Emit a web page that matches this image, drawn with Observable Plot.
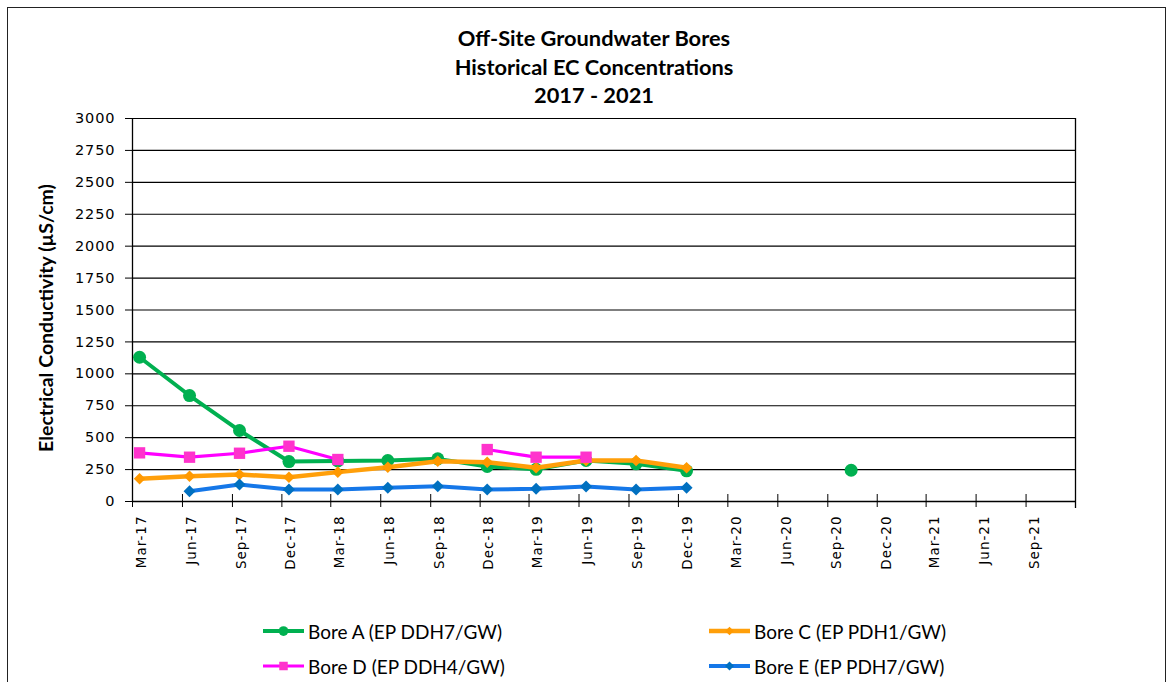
<!DOCTYPE html>
<html>
<head>
<meta charset="utf-8">
<script src="https://cdn.jsdelivr.net/npm/d3@7"></script>
<script src="https://cdn.jsdelivr.net/npm/@observablehq/plot@0.6"></script>
<style>
  html, body { margin: 0; padding: 0; background: #fff; }
  #root { position: relative; width: 1175px; height: 682px; overflow: hidden; }
  #frame { position: absolute; left: 7px; top: 7px; width: 1159px; height: 700px;
           border: 1.5px solid #222; box-sizing: border-box; }
  .title { position: absolute; left: 0; width: 1188px; text-align: center;
           font-family: Lato, sans-serif; font-weight: bold; font-size: 21.8px; color: #000; }
  #plot { position: absolute; left: 0; top: 100px; }
  #plot svg text { font-family: "DejaVu Sans", sans-serif; font-size: 14.5px; letter-spacing: 0.9px; fill: #000; }
  #plot svg g[aria-label="x-axis tick label"] text { font-size: 13.5px; letter-spacing: 1px; }
  #ytitle { position: absolute; left: 45px; top: 318px; transform: translate(-50%, -50%) rotate(-90deg);
            white-space: nowrap; font-family: Lato, sans-serif; font-weight: bold; font-size: 19.5px; }
  .leg { position: absolute; display: flex; align-items: center; font-family: Lato, sans-serif;
         font-size: 19px; color: #000; white-space: nowrap; }
  .leg svg { margin-right: 4px; }
</style>
</head>
<body>
<div id="root">
  <div id="frame"></div>
  <div id="titles"></div>
  <div id="plot"></div>
  <div id="ytitle"></div>
  <div id="legend"></div>
</div>
<script>
// ---- data ----
const titleLines = ["Off-Site Groundwater Bores", "Historical EC Concentrations", "2017 - 2021"];
const yLabel = "Electrical Conductivity (µS/cm)";
const xTickLabels = ["Mar-17","Jun-17","Sep-17","Dec-17","Mar-18","Jun-18","Sep-18","Dec-18","Mar-19","Jun-19","Sep-19","Dec-19","Mar-20","Jun-20","Sep-20","Dec-20","Mar-21","Jun-21","Sep-21"];
const yTicks = [0, 250, 500, 750, 1000, 1250, 1500, 1750, 2000, 2250, 2500, 2750, 3000];
const sampleDates = ["2017-03-14","2017-06-14","2017-09-14","2017-12-14","2018-03-14","2018-06-14","2018-09-14","2018-12-14","2019-03-14","2019-06-14","2019-09-14","2019-12-16","2020-03-14","2020-10-14"];
const boreA = [1130, 830, 556, 313, 318, 321, 334, 274, 252, 321, 295, 240, null, 245];
const boreC = [178, 198, 211, 190, 230, 269, 315, 308, 264, 321, 321, 264, null, null];
const boreD = [381, 347, 378, 433, 329, null, null, 407, 347, 347, null, null, null, null];
const boreE = [null, 81, 133, 94, 94, 107, 120, 94, 99, 117, 94, 107, null, null];
const seriesNames = ["Bore A (EP DDH7/GW)", "Bore C (EP PDH1/GW)", "Bore D (EP DDH4/GW)", "Bore E (EP PDH7/GW)"];

// ---- styles ----
const styles = [
  {values: boreA, line: "#00B050", fill: "#00B050", symbol: "circle", r: 6.5, sw: 4},
  {values: boreC, line: "#FF9F0A", fill: "#FF9900", symbol: "diamond2", r: 5.2, sw: 4.5},
  {values: boreD, line: "#FF00FF", fill: "#FF33CC", symbol: "square", r: 6.4, sw: 3.2},
  {values: boreE, line: "#1577E8", fill: "#0070C0", symbol: "diamond2", r: 5.4, sw: 4}
];

// titles
const tl = document.getElementById("titles");
const titleTops = [24, 53, 81];
titleLines.forEach((t, i) => {
  const d = document.createElement("div");
  d.className = "title"; d.textContent = t; d.style.top = titleTops[i] + "px";
  tl.appendChild(d);
});
document.getElementById("ytitle").textContent = yLabel;

const parseLab = d3.utcParse("%b-%y");
const xTicks = xTickLabels.map(parseLab);
const fmtLab = d3.utcFormat("%b-%y");
const domainX = [parseLab("Mar-17"), parseLab("Dec-21")];

const marks = [
  Plot.gridY(yTicks.filter(v => v > 0), {stroke: "#000", strokeOpacity: 1, strokeWidth: 1.2}),
  Plot.ruleY([0], {stroke: "#000", strokeWidth: 1.3}),
  Plot.ruleX([domainX[0]], {stroke: "#000", strokeWidth: 1.3}),
  Plot.ruleX([domainX[1]], {stroke: "#000", strokeWidth: 1.3, insetBottom: -7}),
  Plot.axisY(yTicks, {tickSize: 7, tickPadding: 10, tickFormat: d3.format("d"), stroke: "#000", fill: "#000", label: null}),
  Plot.axisX(xTicks.concat([domainX[1]]), {tickSize: 13, dy: -7, fill: "none", stroke: "#000", label: null}),
  Plot.axisX(xTicks, {tickSize: 0, tickPadding: 14, tickRotate: -90, dx: 9, tickFormat: fmtLab, fill: "#000", label: null})
];

styles.forEach((s, k) => {
  const rows = sampleDates.map((d, i) => ({date: new Date(d), value: s.values[i]}));
  marks.push(Plot.line(rows, {x: "date", y: "value", stroke: s.line, strokeWidth: s.sw, curve: "linear"}));
  marks.push(Plot.dot(rows.filter(r => r.value != null), {x: "date", y: "value", symbol: s.symbol, fill: s.fill, stroke: "none", r: s.r}));
});

const chart = Plot.plot({
  width: 1175, height: 490,
  marginLeft: 132, marginRight: 100, marginTop: 18, marginBottom: 89,
  style: {background: "transparent", overflow: "visible"},
  x: {type: "utc", domain: domainX},
  y: {domain: [0, 3000]},
  marks
});
document.getElementById("plot").appendChild(chart);

// legend
const legPos = [[263, 631], [709, 631], [263, 666], [709, 666]];
const leg = document.getElementById("legend");
seriesNames.forEach((name, k) => {
  const s = styles[k];
  const item = document.createElement("div");
  item.className = "leg";
  item.style.left = legPos[k][0] + "px";
  item.style.top = (legPos[k][1] - 12) + "px";
  item.style.height = "24px";
  const svg = d3.create("svg").attr("width", 41).attr("height", 24);
  svg.append("line").attr("x1", 0).attr("x2", 41).attr("y1", 12).attr("y2", 12)
     .attr("stroke", s.line).attr("stroke-width", s.sw);
  const sym = {circle: d3.symbolCircle, square: d3.symbolSquare, diamond2: d3.symbolDiamond2}[s.symbol];
  svg.append("path").attr("transform", "translate(20.5,12)")
     .attr("d", d3.symbol(sym, Math.PI * (s.r * 0.75) ** 2)()).attr("fill", s.fill);
  item.appendChild(svg.node());
  const t = document.createElement("span");
  t.textContent = name;
  item.appendChild(t);
  leg.appendChild(item);
});
</script>
</body>
</html>
